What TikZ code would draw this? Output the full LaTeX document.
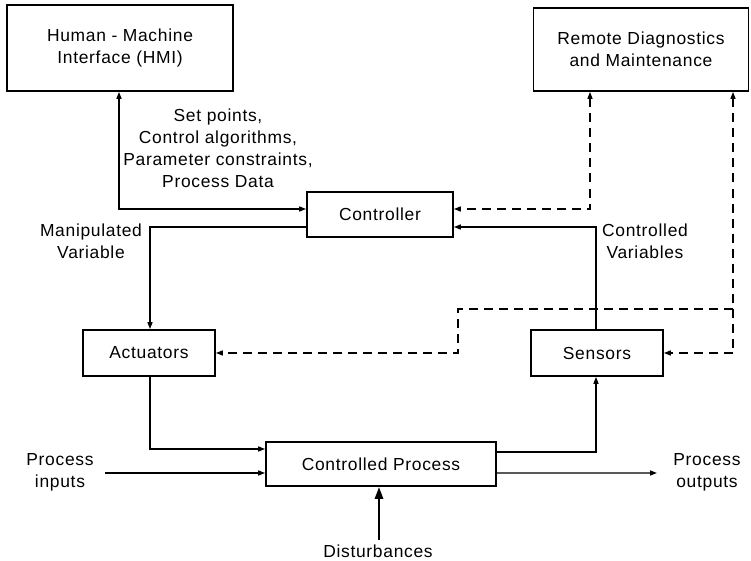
\documentclass[tikz,border=0pt]{standalone}
\usepackage{fontspec}
\setmainfont[LetterSpace=4]{Liberation Sans}
\usetikzlibrary{arrows.meta}
\begin{document}
\begin{tikzpicture}[x=1bp,y=-1bp,
  every node/.style={font=\fontsize{17.5}{22}\selectfont},
  blockbox/.style={draw,line width=1.7bp,rectangle,inner sep=0pt,align=center},
  lbl/.style={align=center,inner sep=0pt},
  tip/.style={-{Triangle[length=7bp,width=5bp]}},
  both/.style={{Triangle[length=7bp,width=5bp]}-{Triangle[length=7bp,width=5bp]}},
  wire/.style={line width=1.4bp},
  dashwire/.style={line width=1.4bp,dash pattern=on 9bp off 6bp}]
\useasboundingbox (0,0) rectangle (751,561);

% blocks
\node[blockbox,minimum width=226bp,minimum height=86bp] (hmi) at (120,48) {Human - Machine\\Interface (HMI)};
\node[blockbox,minimum width=215bp,minimum height=83bp] (rem) at (641,49.5) {Remote Diagnostics\\and Maintenance};
\node[blockbox,minimum width=146bp,minimum height=45bp] (ctrl) at (380,214.5) {Controller};
\node[blockbox,minimum width=132bp,minimum height=46bp] (act) at (149,353) {Actuators};
\node[blockbox,minimum width=132bp,minimum height=46bp] (sen) at (597,353) {Sensors};
\node[blockbox,minimum width=230bp,minimum height=44bp] (cp) at (381,464) {Controlled Process};

% labels
\node[lbl] (setpts) at (218,148) {Set points,\\Control algorithms,\\Parameter constraints,\\Process Data};
\node[lbl] (manip) at (91,241) {Manipulated\\Variable};
\node[lbl] (cvar) at (645,241) {Controlled\\Variables};
\node[lbl] (pin) at (60,472) {Process\\inputs};
\node[lbl] (pout) at (707,472) {Process\\outputs};
\node[lbl] (dist) at (378,551) {Disturbances};

% free ends and branch points
\coordinate (inStart) at (105,473);
\coordinate (outEnd) at (657,473);
\coordinate (distStart) at (379,540);
\coordinate (br) at (733,309);
\coordinate (kink) at (458,309);

% solid signal paths
\draw[wire,both] ([xshift=-1bp]hmi.south) |- ([yshift=5.5bp]ctrl.west);
\draw[wire,tip] ([yshift=-12.5bp]ctrl.west) -| ([xshift=1bp]act.north);
\draw[wire,tip] ([xshift=1bp]act.south) |- ([yshift=15bp]cp.west);
\draw[wire,tip] (inStart) -- (inStart -| cp.west);
\draw[wire,tip] ([yshift=12bp]cp.east) -| ([xshift=-1bp]sen.south);
\draw[wire,tip] ([yshift=-9bp]cp.east) -- (outEnd);
\draw[wire,tip] ([xshift=-1bp]sen.north) |- ([yshift=-12.5bp]ctrl.east);
\draw[line width=2.6bp,-{Triangle[length=12bp,width=8bp]}] (distStart) -- (distStart |- cp.south);

% dashed diagnostic links
\draw[dashwire,both] ([xshift=-51bp]rem.south) |- ([yshift=5.5bp]ctrl.east);
\draw[dashwire,both] ([xshift=92bp]rem.south) |- (sen.east);
\draw[dashwire,tip] (br) -- (kink) |- (act.east);
\end{tikzpicture}
\end{document}
